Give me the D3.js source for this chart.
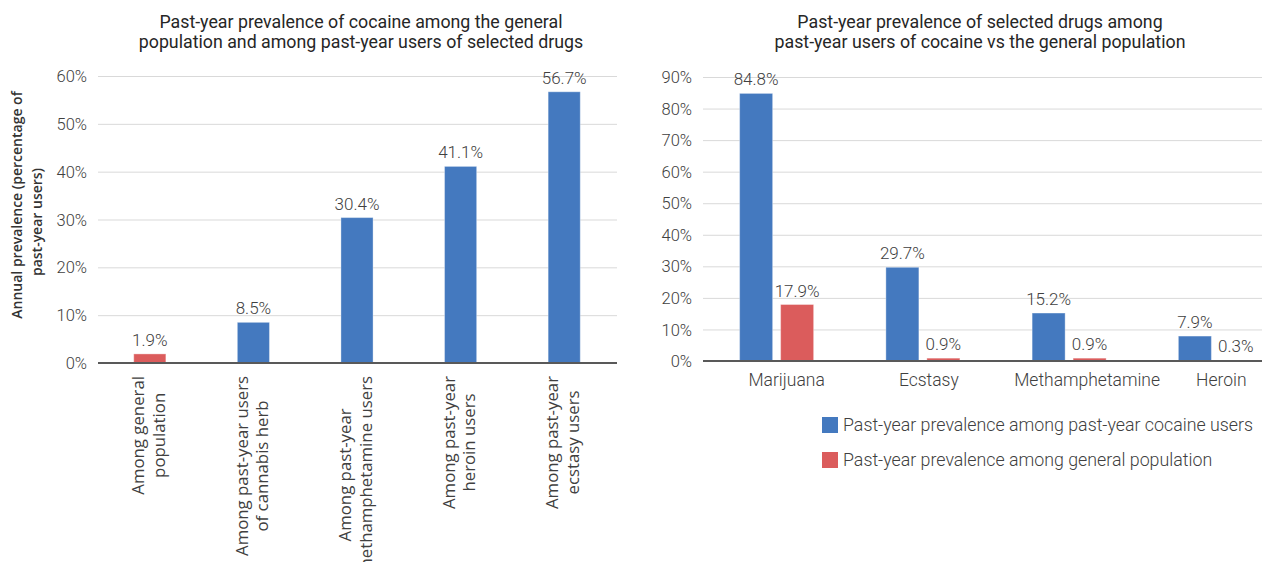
<!DOCTYPE html>
<html><head><meta charset="utf-8">
<script src="https://cdn.jsdelivr.net/npm/d3@7"></script>
<style>
body{margin:0;background:#fff;}
svg{display:block;}
.main{font-family:Roboto,"Noto Sans",sans-serif;font-weight:300;}
.cat{font-family:"Open Sans","Noto Sans",sans-serif;}
</style></head><body>
<svg id="chart" width="1262" height="562"></svg>
<script>
// ---------- data ----------
const leftTitle = ["Past-year prevalence of cocaine among the general", "population and among past-year users of selected drugs"];
const leftCategories = [
  ["Among general", "population"],
  ["Among past-year users", "of cannabis herb"],
  ["Among past-year", "methamphetamine users"],
  ["Among past-year", "heroin users"],
  ["Among past-year", "ecstasy users"]
];
const leftValues = [1.9, 8.5, 30.4, 41.1, 56.7];
const leftGroups = ["general", "users", "users", "users", "users"];
const leftTicks = [0, 10, 20, 30, 40, 50, 60];
const leftAxisTitle = ["Annual prevalence (percentage of", "past-year users)"];

const rightTitle = ["Past-year prevalence of selected drugs among", "past-year users of cocaine vs the general population"];
const rightCategories = ["Marijuana", "Ecstasy", "Methamphetamine", "Heroin"];
const cocaineUsers = [84.8, 29.7, 15.2, 7.9];
const generalPopulation = [17.9, 0.9, 0.9, 0.3];
const rightTicks = [0, 10, 20, 30, 40, 50, 60, 70, 80, 90];
const seriesNames = ["Past-year prevalence among past-year cocaine users", "Past-year prevalence among general population"];

// ---------- styles / layout ----------
const BLUE = "#4479bf", RED = "#db5c5c";
const colorFor = {users: BLUE, general: RED};
const seriesColors = [BLUE, RED];
const rightLabelShift = [10, 6, 18, 6];   // horizontal nudge of x labels, as in the reference
const fmt = d => d + "%";

const svg = d3.select("#chart");

function titleBlock(lines, cx) {
  const t = svg.append("text").attr("class", "main").attr("text-anchor", "middle")
    .attr("fill", "#262626").style("font-size", "17.8px").style("font-weight", 400);
  lines.forEach((l, i) => t.append("tspan").attr("x", cx).attr("y", 28 + i * 20).text(l));
}

function yAxisGrid(scale, ticks, left, right) {
  const g = svg.append("g").attr("transform", `translate(${left},0)`)
    .call(d3.axisLeft(scale).tickValues(ticks).tickFormat(fmt).tickSize(-(right - left)).tickPadding(11));
  g.select(".domain").remove();
  g.selectAll(".tick line").attr("stroke", "#d9d9d9").attr("stroke-width", 1);
  g.selectAll(".tick text").attr("class", "main").attr("fill", "#404040")
    .style("font-size", "16.5px").attr("dy", "0.34em");
  return g;
}

// ---------- left chart ----------
const L = {left: 98, right: 617, top: 76, bottom: 363};
const xL = d3.scaleBand().domain(d3.range(leftValues.length)).range([L.left, 616])
  .paddingInner(0.69).paddingOuter(0.345);
const yL = d3.scaleLinear().domain([0, 60]).range([L.bottom, L.top]);

titleBlock(leftTitle, 361);
yAxisGrid(yL, leftTicks, L.left, L.right);

svg.append("g").selectAll("rect").data(leftValues).join("rect")
  .attr("x", (d, i) => xL(i)).attr("width", xL.bandwidth())
  .attr("y", d => yL(d)).attr("height", d => yL(0) - yL(d))
  .attr("fill", (d, i) => colorFor[leftGroups[i]])
  .attr("stroke", "rgba(255,255,255,0.35)").attr("stroke-width", 1);

svg.append("line").attr("x1", L.left).attr("x2", L.right).attr("y1", yL(0)).attr("y2", yL(0))
  .attr("stroke", "#595959").attr("stroke-width", 2);

svg.append("g").selectAll("text").data(leftValues).join("text")
  .attr("class", "main").attr("text-anchor", "middle").attr("fill", "#404040")
  .style("font-size", "17px")
  .attr("x", (d, i) => xL(i) + xL.bandwidth() / 2).attr("y", d => yL(d) - 8)
  .text(d => d.toFixed(1) + "%");

// rotated category labels
const catTop = 376, lineH = 20.5;
leftCategories.forEach((lines, i) => {
  const g = svg.append("g")
    .attr("transform", `translate(${xL(i) + xL.bandwidth() / 2},${catTop}) rotate(-90)`);
  const texts = lines.map((l, j) => g.append("text").attr("class", "cat")
    .attr("fill", "#404040").style("font-size", "16.8px").attr("text-anchor", "middle")
    .attr("y", (j - (lines.length - 1) / 2) * lineH + 4.5).text(l));
  const maxLen = d3.max(texts, t => t.node().getComputedTextLength());
  texts.forEach(t => t.attr("x", -maxLen / 2));
});

// y axis title
const ytCenters = [205, 222], ytX = [22, 42];
leftAxisTitle.forEach((l, j) => {
  svg.append("text").attr("class", "cat")
    .attr("transform", `translate(${ytX[j]},${ytCenters[j]}) rotate(-90)`)
    .attr("text-anchor", "middle").attr("fill", "#333")
    .style("font-size", "14px").style("font-weight", 600).text(l);
});

// ---------- right chart ----------
const R = {left: 703, right: 1262, top: 77, bottom: 361};
const x0 = d3.scaleBand().domain(rightCategories).range([703.5, 1288.5]).padding(0);
const x1 = d3.scaleBand().domain([0, 1]).range([-37, 37]).paddingInner(0.195).paddingOuter(0);
const yR = d3.scaleLinear().domain([0, 90]).range([R.bottom, R.top]);

titleBlock(rightTitle, 980);
yAxisGrid(yR, rightTicks, R.left, R.right);

const seriesData = [cocaineUsers, generalPopulation];
const flat = [];
rightCategories.forEach((c, i) => seriesData.forEach((s, k) => flat.push({c, k, v: s[i]})));

const cx = d => x0(d.c) + x0.bandwidth() / 2 + x1(d.k);
svg.append("g").selectAll("rect").data(flat).join("rect")
  .attr("x", cx).attr("width", x1.bandwidth())
  .attr("y", d => yR(d.v)).attr("height", d => yR(0) - yR(d.v))
  .attr("fill", d => seriesColors[d.k])
  .attr("stroke", "rgba(255,255,255,0.35)").attr("stroke-width", 1);

svg.append("line").attr("x1", R.left).attr("x2", R.right).attr("y1", yR(0)).attr("y2", yR(0))
  .attr("stroke", "#595959").attr("stroke-width", 2);

svg.append("g").selectAll("text").data(flat).join("text")
  .attr("class", "main").attr("text-anchor", "middle").attr("fill", "#404040")
  .style("font-size", "17px")
  .attr("x", d => cx(d) + x1.bandwidth() / 2).attr("y", d => yR(d.v) - 8)
  .text(d => d.v.toFixed(1) + "%");

svg.append("g").selectAll("text").data(rightCategories).join("text")
  .attr("class", "main").attr("text-anchor", "middle").attr("fill", "#404040")
  .style("font-size", "17.5px")
  .attr("x", (d, i) => x0(d) + x0.bandwidth() / 2 + rightLabelShift[i]).attr("y", 386)
  .text(d => d);

// legend
const lg = svg.append("g").attr("transform", "translate(822,417)");
seriesNames.forEach((n, k) => {
  lg.append("rect").attr("x", 0).attr("y", k * 35).attr("width", 16).attr("height", 16)
    .attr("fill", seriesColors[k]);
  lg.append("text").attr("class", "main").attr("x", 21).attr("y", k * 35 + 8)
    .attr("dy", "0.35em").attr("fill", "#404040").style("font-size", "17.8px").text(n);
});
</script>
</body></html>
